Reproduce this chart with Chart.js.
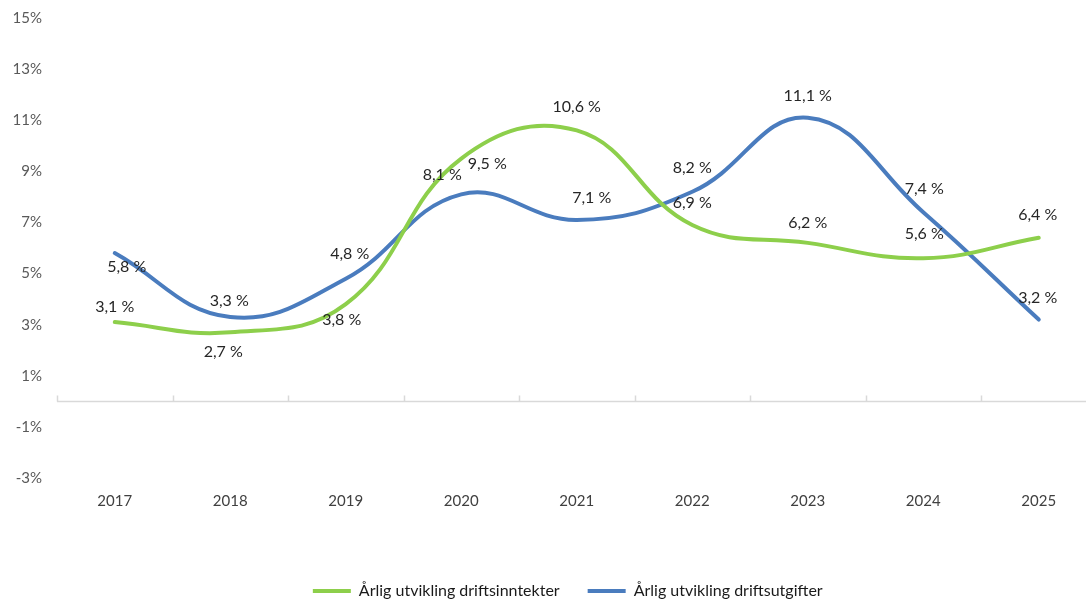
<!DOCTYPE html>
<html><head><meta charset="utf-8">
<script src="https://cdn.jsdelivr.net/npm/chart.js@4.4.1/dist/chart.umd.min.js"></script>
<style>
html,body{margin:0;padding:0;overflow:hidden;background:#fff;width:1086px;height:601px}
#wrap{position:absolute;left:0;top:0;width:1100px;height:609px}
</style></head>
<body><div id="wrap"><canvas id="c" width="1100" height="609"></canvas></div>
<script>
// ---- data ----
const categories = ['2017','2018','2019','2020','2021','2022','2023','2024','2025'];
const driftsinntekter = [3.1, 2.7, 3.8, 9.5, 10.6, 6.9, 6.2, 5.6, 6.4];
const driftsutgifter  = [5.8, 3.3, 4.8, 8.1, 7.1, 8.2, 11.1, 7.4, 3.2];
const seriesNames = ['Årlig utvikling driftsinntekter', 'Årlig utvikling driftsutgifter'];
const yTickValues = [-3, -1, 1, 3, 5, 7, 9, 11, 13, 15];

// ---- styles ----
const FONT = 'Lato, "Open Sans", sans-serif';
const colors = ['#8DCF4B', '#4A7CBE'];
// label offsets (px) relative to each point: [dx, dy]
const labelOffsets = [
  [[0,-15],[-7,20],[-4,16],[26,5],[0,-24],[0,-22],[0,-20],[1,-24],[-1,-23]],
  [[12,14],[-1,-16],[4,-25],[-19,-19],[15,-22],[0,-24],[0,-22],[1,-23],[-1,-22]]
];

const fmt = v => v.toFixed(1).replace('.', ',') + ' %';

const zeroAxisPlugin = {
  id: 'zeroAxis',
  beforeDatasetsDraw(chart) {
    const {ctx, chartArea, scales: {x, y}} = chart;
    const y0 = Math.round(y.getPixelForValue(0)) + 0.5;
    ctx.save();
    ctx.strokeStyle = '#D9D9D9';
    ctx.lineWidth = 1.5;
    ctx.beginPath();
    ctx.moveTo(chartArea.left, y0);
    ctx.lineTo(chartArea.right, y0);
    const half = (x.getPixelForValue(1) - x.getPixelForValue(0)) / 2;
    for (let i = 0; i <= categories.length; i++) {
      const px = Math.round(x.getPixelForValue(i) - half) + 0.5;
      ctx.moveTo(px, y0);
      ctx.lineTo(px, y0 - 6);
    }
    ctx.stroke();
    ctx.restore();
  }
};

const dataLabelPlugin = {
  id: 'dataLabels',
  afterDatasetsDraw(chart) {
    const {ctx} = chart;
    ctx.save();
    ctx.font = '16px ' + FONT;
    ctx.fillStyle = '#262626';
    ctx.textAlign = 'center';
    ctx.textBaseline = 'middle';
    chart.data.datasets.forEach((ds, di) => {
      const meta = chart.getDatasetMeta(di);
      meta.data.forEach((pt, i) => {
        const [dx, dy] = labelOffsets[di][i];
        ctx.fillText(fmt(ds.data[i]), pt.x + dx, pt.y + dy);
      });
    });
    ctx.restore();
  }
};

// nudge the legend a little left so it sits where the reference has it
const legendShiftPlugin = {
  id: 'legendShift',
  beforeDraw(chart) {
    if (chart.legend) { chart.legend.left -= 9; chart.legend.right -= 9; }
  }
};

new Chart(document.getElementById('c'), {
  type: 'line',
  data: {
    labels: categories,
    datasets: [
      {label: seriesNames[0], data: driftsinntekter, borderColor: colors[0], backgroundColor: colors[0],
       borderWidth: 4, pointRadius: 0, pointStyle: 'line', tension: 0.42, borderCapStyle: 'round', fill: false},
      {label: seriesNames[1], data: driftsutgifter, borderColor: colors[1], backgroundColor: colors[1],
       borderWidth: 4, pointRadius: 0, pointStyle: 'line', tension: 0.42, borderCapStyle: 'round', fill: false}
    ]
  },
  options: {
    responsive: false,
    animation: false,
    devicePixelRatio: 1,
    layout: {padding: {left: 4, right: 3.5, top: 18, bottom: 0}},
    plugins: {
      tooltip: {enabled: false},
      legend: {
        position: 'bottom',
        fullSize: false,
        labels: {
          usePointStyle: true,
          pointStyle: 'line',
          pointStyleWidth: 38,
          padding: 28,
          color: '#1a1a1a',
          font: {family: FONT, size: 16}
        }
      }
    },
    scales: {
      x: {
        type: 'category',
        offset: true,
        grid: {display: false, drawTicks: false, tickLength: 0},
        border: {display: false},
        ticks: {color: '#404040', font: {family: FONT, size: 15}, padding: 14, maxRotation: 0},
        afterFit(s) { s.height = 77; }
      },
      y: {
        type: 'linear',
        min: yTickValues[0],
        max: yTickValues[yTickValues.length - 1],
        grid: {display: false, drawTicks: false, tickLength: 0},
        border: {display: false},
        ticks: {
          stepSize: yTickValues[1] - yTickValues[0],
          color: '#595959', font: {family: FONT, size: 15}, padding: 15,
          callback: function(value, index) {
            const v = (typeof value === 'number') ? value : yTickValues[index];
            return String(v) + '%';
          }
        },
        afterFit(s) { s.width = 53; s.paddingTop = 0; s.paddingBottom = 0; }
      }
    }
  },
  plugins: [zeroAxisPlugin, dataLabelPlugin, legendShiftPlugin]
});
</script>
</body></html>
